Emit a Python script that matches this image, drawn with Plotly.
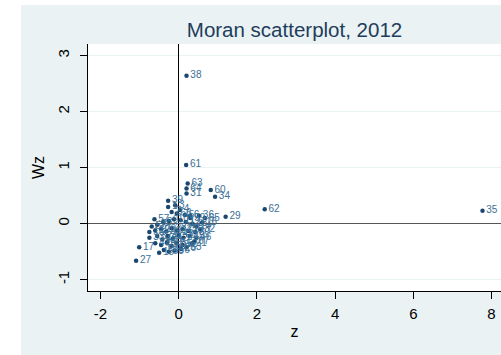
import plotly.graph_objects as go

# region ids and Moran scatter values (z = standardized value, Wz = spatial lag)
region_ids = [38, 61, 63, 64, 31, 60, 34, 62, 35, 29, 65, 36, 39, 17, 27, 21, 15, 26, 58,
              1, 2, 3, 4, 5, 6,
              7, 8, 9, 10, 11, 12, 13, 14, 16,
              18, 19, 20, 22, 23, 24, 25, 28, 30, 32,
              33, 37, 40, 41, 42, 43, 44, 45, 46,
              47, 48, 49, 50, 51, 52, 53,
              54, 55, 56,
              57, 59, 66, 67]
z_vals = [0.20, 0.19, 0.23, 0.20, 0.20, 0.82, 0.93, 2.20, 7.77, 1.20, 0.67, 0.52, -0.27, -1.01, -1.09, 0.34, -0.50, 0.06, -0.69,
          -0.27, -0.18, -0.09, 0.03, 0.16, 0.29,
          -0.55, -0.40, -0.25, -0.12, 0.05, 0.18, 0.35, 0.45, 0.60,
          -0.75, -0.60, -0.45, -0.32, -0.18, -0.05, 0.10, 0.25, 0.42, 0.55,
          -0.75, -0.55, -0.42, -0.28, -0.15, 0.00, 0.12, 0.28, 0.45,
          -0.60, -0.45, -0.30, -0.18, -0.05, 0.10, 0.20,
          -0.38, -0.25, -0.10,
          -0.62, 0.30, -0.05, 0.40]
wz_vals = [2.64, 1.05, 0.72, 0.63, 0.54, 0.60, 0.48, 0.26, 0.23, 0.125, 0.10, 0.14, 0.41, -0.42, -0.66, -0.35, -0.52, -0.45, -0.05,
           0.30, 0.21, 0.33, 0.245, 0.155, 0.14,
           -0.02, 0.03, 0.05, 0.08, 0.06, 0.03, 0.00, -0.05, 0.02,
           -0.15, -0.12, -0.10, -0.14, -0.08, -0.12, -0.10, -0.13, -0.15, -0.10,
           -0.25, -0.22, -0.28, -0.22, -0.27, -0.20, -0.25, -0.22, -0.25,
           -0.35, -0.38, -0.33, -0.40, -0.35, -0.38, -0.42,
           -0.47, -0.50, -0.48,
           0.08, 0.10, 0.18, -0.32]

x_ticks = [-2, 0, 2, 4, 6, 8]
y_ticks = [-1, 0, 1, 2, 3]

W, H = 501, 355
ML, MR, MT, MB = 88, 0, 44, 64
pw, ph = W - ML - MR, H - MT - MB

GRAPH_BG = "#EAF2F3"
NAVY = "#1a476f"

fig = go.Figure()
fig.add_trace(go.Scatter(
    x=z_vals, y=wz_vals, mode="markers+text",
    text=[str(r) for r in region_ids], textposition="middle right",
    textfont=dict(family="Liberation Sans, Arial, sans-serif", size=10, color="#3a6f96"),
    marker=dict(color=NAVY, size=4.5, line=dict(width=0)),
    cliponaxis=True, showlegend=False, hoverinfo="skip",
))

def px_to_paper_x(px):
    return (px - ML) / pw

def px_to_paper_y(py):
    return (H - MB - py) / ph

# white strips outside the graph region (left and top)
shapes = [
    dict(type="rect", xref="paper", yref="paper", layer="below",
         x0=px_to_paper_x(0) - 0.01, x1=px_to_paper_x(21), y0=-0.5, y1=1.5,
         fillcolor="white", line=dict(width=0)),
    dict(type="rect", xref="paper", yref="paper", layer="below",
         x0=-0.5, x1=1.5, y0=px_to_paper_y(5), y1=1.5,
         fillcolor="white", line=dict(width=0)),
]

fig.update_layout(
    width=W, height=H,
    margin=dict(l=ML, r=MR, t=MT, b=MB, pad=0),
    paper_bgcolor=GRAPH_BG, plot_bgcolor="white",
    font=dict(family="Liberation Sans, Arial, sans-serif", color="black"),
    title=dict(text="Moran scatterplot, 2012", x=0.5, xref="paper",
               y=1 - 30 / H, yref="container", xanchor="center", yanchor="middle",
               font=dict(size=20.5, color="#1e3d5c")),
    shapes=shapes,
)
fig.update_xaxes(
    range=[(ML - 178.7) / 39.1, (W - 178.7) / 39.1],
    tickvals=x_ticks, ticktext=[str(t) for t in x_ticks],
    showgrid=False, zeroline=True, zerolinecolor="black", zerolinewidth=1,
    showline=True, linecolor="black", linewidth=1,
    ticks="outside", ticklen=7, tickcolor="black", tickwidth=1,
    tickfont=dict(size=15), ticklabelstandoff=2,
    title=dict(text="z", font=dict(size=16), standoff=4),
    automargin=False,
)
fig.update_yaxes(
    range=[(223.7 - (H - MB)) / 56, (223.7 - MT) / 56],
    tickvals=y_ticks, ticktext=[str(t) for t in y_ticks], tickangle=-90,
    showgrid=True, gridcolor=GRAPH_BG, gridwidth=1,
    zeroline=True, zerolinecolor="#555555", zerolinewidth=1.3,
    showline=True, linecolor="black", linewidth=1,
    ticks="outside", ticklen=7, tickcolor="black", tickwidth=1,
    tickfont=dict(size=15), ticklabelstandoff=5,
    title=dict(text="Wz", font=dict(size=16), standoff=6),
    automargin=False,
)

fig.write_html("out.html", config={"displayModeBar": False},
               post_script="document.body.style.margin='0';")
